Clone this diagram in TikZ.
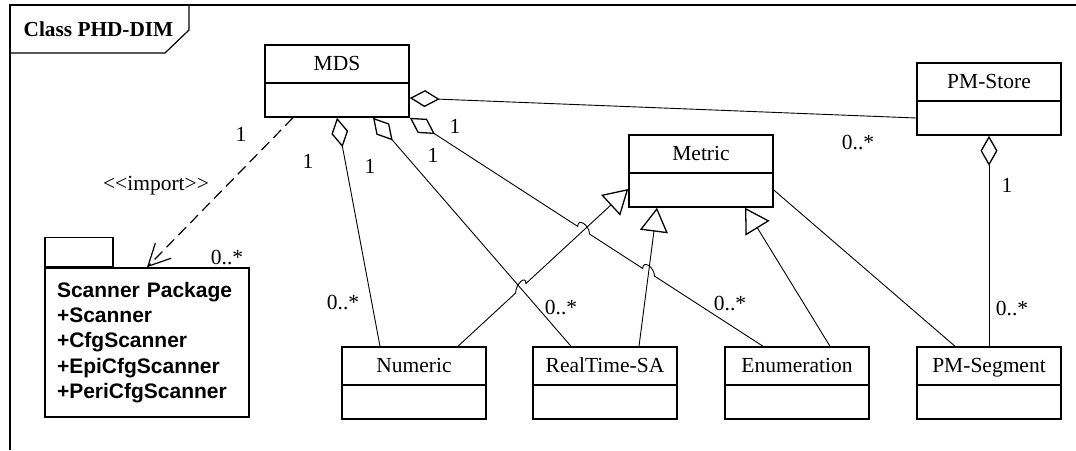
\documentclass[tikz,border=0pt]{standalone}
\usepackage{fontspec}
\setmainfont{Liberation Serif}
\setsansfont{Liberation Sans}
\usetikzlibrary{arrows.meta,calc,intersections,positioning}

\tikzset{
  cls/.style={draw,line width=1.5pt,minimum width=144pt,minimum height=72pt,inner sep=0pt},
  clsname/.style={anchor=base,inner sep=0pt,font=\fontsize{21.5}{26}\selectfont},
  clsline/.style={line width=1.5pt},
  mult/.style={inner sep=0pt,font=\fontsize{21.5}{26}\selectfont},
  agg/.style={line width=0.9pt,{Diamond[open,length=30pt,width=17pt,line width=1.3pt]}-},
  gen/.style={line width=0.9pt,-{Triangle[open,length=24pt,width=28pt,line width=1.3pt]}},
  imp/.style={line width=1.2pt,dash pattern=on 11pt off 6pt,-{Straight Barb[length=22pt,width=22pt,line width=1.2pt]}},
}

% class box: name, position, title
\newcommand{\umlclass}[3]{%
  \node[cls] (#1) at (#2) {};
  \node[clsname] (#1-title) at ($(#1.north)+(0,26)$) {#3};
  \draw[clsline] ($(#1.north west)+(0,38.5)$) -- ($(#1.north east)+(0,38.5)$);
}

\begin{document}
\begin{tikzpicture}[x=1pt,y=-1pt]
\useasboundingbox (0,0) rectangle (1076,450);

% frame
\draw[line width=1.2pt] (10,450) -- (10,5) -- (1076,5);
\draw[line width=1.2pt] (10,53) -- (165,53) -- (189,30) -- (189,5);
\node[font=\bfseries\fontsize{21.3}{26}\selectfont] (title) at (98.5,29) {Class PHD-DIM};

% classes
\umlclass{mds}{337,81}{MDS}
\umlclass{store}{989,99}{PM-Store}
\umlclass{metric}{701,171}{Metric}
\umlclass{num}{414,383}{Numeric}
\umlclass{rt}{605,383}{RealTime-SA}
\umlclass{enu}{797,383}{Enumeration}
\umlclass{seg}{989,383}{PM-Segment}

% package
\node[draw,line width=1.5pt,minimum width=204pt,minimum height=149pt,text width=180pt,inner xsep=12pt,align=left,
  font=\sffamily\bfseries\fontsize{21}{25.3}\selectfont] (pkg) at (147,342.5)
  {Scanner Package\\+Scanner\\+CfgScanner\\+EpiCfgScanner\\+PeriCfgScanner};
\node[draw,line width=1.5pt,minimum width=68pt,minimum height=29pt,inner sep=0pt,anchor=south west] (pkgtab) at (pkg.north west) {};

% end points
\coordinate (mdsI) at ($(mds.south)+(-44,0)$);
\coordinate (mdsB) at ($(mds.south)+(36,0)$);
\coordinate (mdsD) at ($(mds.east)+(0,17)$);
\coordinate (numA) at ($(num.north)+(-34,0)$);
\coordinate (numG) at ($(num.north)+(44,0)$);
\coordinate (rtB) at ($(rt.north)+(-34,0)$);
\coordinate (rtG) at ($(rt.north)+(34,0)$);
\coordinate (enuC) at ($(enu.north)+(-34,0)$);
\coordinate (enuG) at ($(enu.north)+(33,0)$);
\coordinate (segM) at ($(seg.north)+(-34,0)$);
\coordinate (storeD) at ($(store.west)+(0,19)$);
\coordinate (metG) at ($(metric.west)+(0,18)$);
\coordinate (metGb) at ($(metric.south)+(-44,0)$);
\coordinate (metGc) at ($(metric.south)+(44,0)$);
\coordinate (metM) at ($(metric.east)+(0,19)$);

% crossings
\path[name path=pGenA] (numG) -- (metG);
\path[name path=pAggB] (mdsB) -- (rtB);
\path[name path=pAggC] (mds.south east) -- (enuC);
\path[name path=pGenB] (rtG) -- (metGb);
\path[name intersections={of=pGenA and pAggB,by=hopA}];
\path[name intersections={of=pGenA and pAggC,by=hopB}];
\path[name intersections={of=pGenB and pAggC,by=hopC}];

% connectors
\draw[imp] (mdsI) -- (pkg.north);
\draw[agg] (mds.south) -- (numA);
\draw[agg] (mdsB) -- (rtB);
\draw[agg] (mds.south east) -- ($(hopB)!7pt!(mds.south east)$) .. controls +(0,-9) and +(0,-9) .. ($(hopB)!7pt!(enuC)$)
  -- ($(hopC)!7pt!(mds.south east)$) .. controls +(0,-9) and +(0,-9) .. ($(hopC)!7pt!(enuC)$) -- (enuC);
\draw[agg] (mdsD) -- (storeD);
\draw[agg] (store.south) -- (seg.north);
\draw[gen] (numG) -- ($(hopA)!7pt!(numG)$) .. controls +(0,-9) and +(0,-9) .. ($(hopA)!7pt!(metG)$) -- (metG);
\draw[gen] (rtG) -- (metGb);
\draw[gen] (enuG) -- (metGc);
\draw[line width=0.9pt] (metM) -- (segM);

% labels
\node[mult] (lImp) at (156,186) {<\kern0pt<import>\kern0pt>};
\node[mult] (mI1) at (241,134) {1};
\node[mult] (mI2) at (227,257) {0..*};
\node[mult] (mA1) at (308,161) {1};
\node[mult] (mA2) at (343,302) {0..*};
\node[mult] (mB1) at (370,166) {1};
\node[mult] (mB2) at (561,307) {0..*};
\node[mult] (mC1) at (433,155) {1};
\node[mult] (mC2) at (730,303) {0..*};
\node[mult] (mD1) at (455,126) {1};
\node[mult] (mD2) at (858,143) {0..*};
\node[mult] (mE1) at (1007,185) {1};
\node[mult] (mE2) at (1012,308) {0..*};
\end{tikzpicture}
\end{document}
